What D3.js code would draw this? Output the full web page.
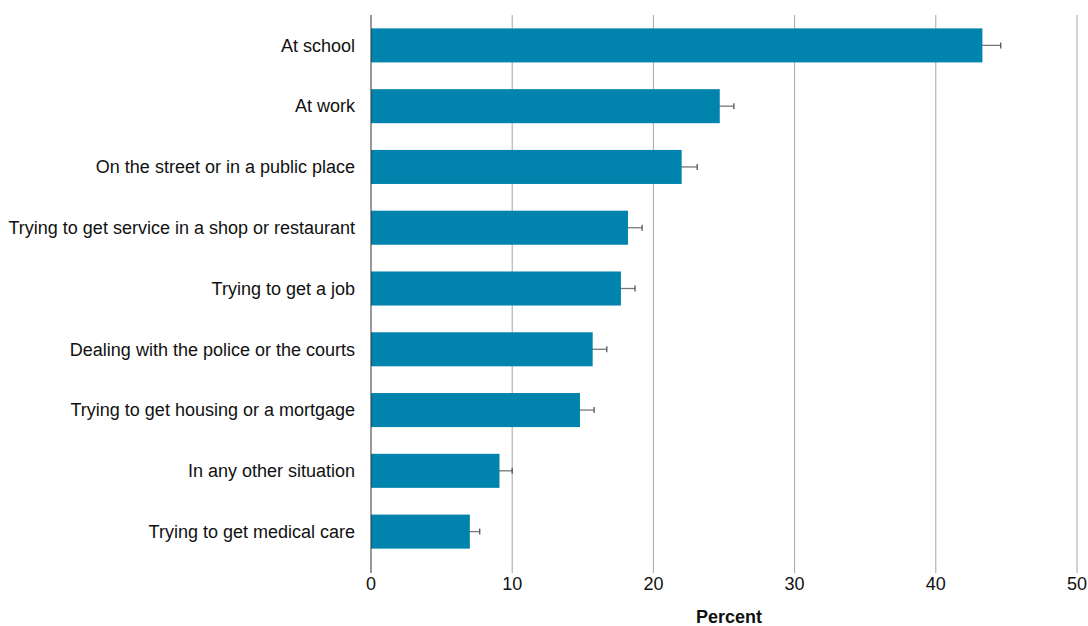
<!DOCTYPE html>
<html><head><meta charset="utf-8">
<script src="https://cdn.jsdelivr.net/npm/d3@7"></script>
<style>body{margin:0;background:#fff;} text{font-family:"Liberation Sans",Arial,sans-serif;}</style>
</head><body><svg id="c" width="1088" height="626"></svg>
<script>
const categories = ["At school","At work","On the street or in a public place","Trying to get service in a shop or restaurant","Trying to get a job","Dealing with the police or the courts","Trying to get housing or a mortgage","In any other situation","Trying to get medical care"];
const values = [43.3, 24.7, 22.0, 18.2, 17.7, 15.7, 14.8, 9.1, 7.0];
const upper = [44.6, 25.7, 23.1, 19.2, 18.7, 16.7, 15.8, 10.0, 7.7];
const lower = [42.0, 23.7, 20.9, 17.2, 16.7, 14.7, 13.8, 8.2, 6.3];
const xTicks = [0,10,20,30,40,50];
const xTitle = "Percent";

const svg = d3.select("#c");
const mLeft = 371, mRight = 1077, mTop = 15, mBottom = 562, lineBottom = 573;
const x = d3.scaleLinear().domain([0,50]).range([mLeft,mRight]);
const y = d3.scaleBand().domain(categories).range([mTop,mBottom]).paddingInner(0.44).paddingOuter(0.22);

// gridlines
svg.append("g").selectAll("line").data(xTicks.filter(d=>d>0)).join("line")
  .attr("x1",d=>x(d)).attr("x2",d=>x(d)).attr("y1",mTop).attr("y2",lineBottom)
  .attr("stroke","#a6a6a6").attr("stroke-width",1);

// error bars (under bars)
const eb = svg.append("g");
categories.forEach((c,i)=>{
  const cy = y(c)+y.bandwidth()/2;
  eb.append("line").attr("x1",x(lower[i])).attr("x2",x(upper[i])).attr("y1",cy).attr("y2",cy).attr("stroke","#777").attr("stroke-width",1.3);
  eb.append("line").attr("x1",x(upper[i])).attr("x2",x(upper[i])).attr("y1",cy-3).attr("y2",cy+3).attr("stroke","#555").attr("stroke-width",1.3);
});

// bars
svg.append("g").selectAll("rect").data(categories).join("rect")
  .attr("x",x(0)).attr("y",d=>y(d)).attr("width",(d,i)=>x(values[i])-x(0)).attr("height",y.bandwidth())
  .attr("fill","#0083ad");

// y axis line
svg.append("line").attr("x1",x(0)).attr("x2",x(0)).attr("y1",mTop).attr("y2",lineBottom).attr("stroke","#333").attr("stroke-width",1);

// category labels
svg.append("g").selectAll("text").data(categories).join("text")
  .attr("x",x(0)-16).attr("y",d=>y(d)+y.bandwidth()/2).attr("dy","0.35em")
  .attr("text-anchor","end").attr("font-size",18).attr("fill","#111").text(d=>d);

// x tick labels
svg.append("g").selectAll("text").data(xTicks).join("text")
  .attr("x",d=>x(d)).attr("y",590).attr("text-anchor","middle").attr("font-size",18).attr("fill","#111").text(d=>d);

svg.append("text").attr("x",729).attr("y",623).attr("text-anchor","middle").attr("font-size",18).attr("font-weight","bold").attr("fill","#111").text(xTitle);
</script></body></html>
